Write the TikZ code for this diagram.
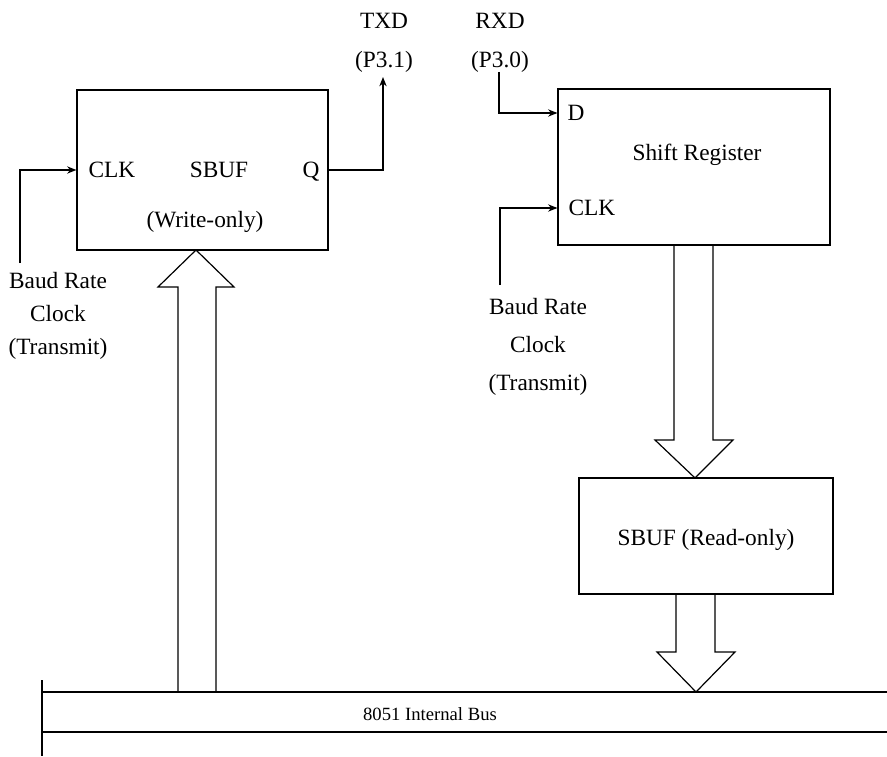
\documentclass[tikz,border=0pt]{standalone}
\usepackage{fontspec}
\setmainfont{Liberation Serif}
\usetikzlibrary{arrows.meta, calc}

\begin{document}
\begin{tikzpicture}[
        x=0.75pt, y=-0.75pt,
        >={Stealth[length=7pt, width=5.5pt]},
        line width=0.9pt,
        block/.style={draw, rectangle, inner sep=0pt},
        lbl/.style={font=\fontsize{17.5}{21}\selectfont, inner sep=0pt},
        baud/.style={lbl, align=center},
        signal/.style={->},
        hollow/.style={draw, line join=miter}
    ]
\useasboundingbox (0,0) rectangle (887,756);

% Blocks
        \node[block, minimum width=188.25pt, minimum height=120pt] (sbufw) at (202.5,170) {};
        \node[block, minimum width=204pt, minimum height=117pt] (shreg) at (694,167) {};
        \node[block, minimum width=190.5pt, minimum height=87pt] (sbufr) at (706,536) {};

% Texts inside the blocks
        \node[lbl, anchor=west] (clkw) at (88,170) {CLK};
        \node[lbl] (sbufwname) at (219,170) {SBUF};
        \node[lbl, anchor=base east] (qout) at (320,177.5) {Q};
        \node[lbl] (wronly) at (205,222) {(Write-only)};
        \node[lbl, anchor=west] (dlbl) at (567,113) {D};
        \node[lbl] (shname) at (697,155) {Shift Register};
        \node[lbl, anchor=west] (clkrlbl) at (568,208) {CLK};
        \node[lbl] (sbufrname) at (706,540) {SBUF (Read-only)};

% Pins
        \node[lbl] (txd) at (384,21) {TXD};
        \node[lbl] (txdpin) at (384,62) {(P3.1)};
        \node[lbl] (rxd) at (500,21) {RXD};
        \node[lbl] (rxdpin) at (500,62) {(P3.0)};

% Clock sources
        \node[baud, font=\fontsize{17.5}{24.75}\selectfont] (baudw) at (58,316) {Baud Rate\\Clock\\(Transmit)};
        \node[baud, font=\fontsize{17.5}{28.5}\selectfont] (baudr) at (538,347) {Baud Rate\\Clock\\(Transmit)};

% Signal lines
        \coordinate (clkwsrc) at (20,263);
        \coordinate (txdend) at (383,77);
        \coordinate (rxdsrc) at (499,72);
        \coordinate (clkrsrc) at (500,285);
        \draw[signal] (clkwsrc) |- (sbufw.west);
        \draw[signal] (sbufw.east) -| (txdend);
        \draw[signal] (rxdsrc) |- (shreg.west |- dlbl);
        \draw[signal] (clkrsrc) |- (shreg.west |- clkrlbl);

% Internal bus
        \draw (42,692) -- (887,692);
        \draw (42,732) -- (887,732);
        \draw (42,680) -- (42,756);
        \node[font=\fontsize{14}{17}\selectfont, inner sep=0pt] (buslbl) at (430,714) {8051 Internal Bus};

% Hollow bus arrows
        \draw[hollow] (178,692) -- (178,287) -- (158,287) -- (196,250) -- (234,287) -- (216,287) -- (216,692);
        \draw[hollow] (674,245) -- (674,440) -- (655,440) -- (695,478) -- (733,440) -- (713,440) -- (713,245);
        \draw[hollow] (676,594) -- (676,652) -- (657,652) -- (696,692) -- (735,652) -- (715,652) -- (715,594);
    \end{tikzpicture}
\end{document}
